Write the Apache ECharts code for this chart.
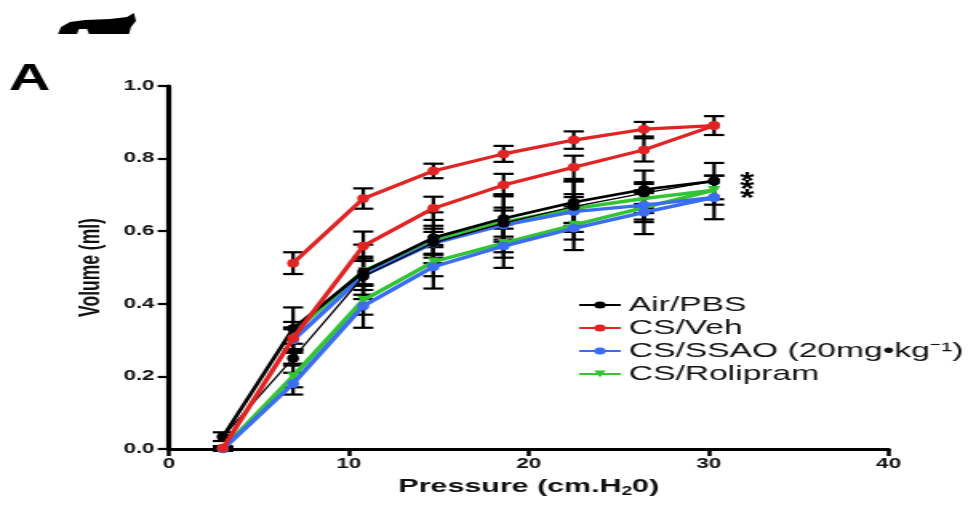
<!DOCTYPE html>
<html><head><meta charset="utf-8">
<script src="https://cdn.jsdelivr.net/npm/echarts@6/dist/echarts.min.js"></script>
<style>
html,body{margin:0;padding:0;background:#fff;overflow:hidden;}
#wrap{width:970px;height:506px;overflow:hidden;}
#chart{width:606.25px;height:506px;transform:scaleX(1.6);transform-origin:0 0;}
</style></head><body><div id="wrap"><div id="chart"></div></div>
<script>
// Pressure (cm H2O) sampling points
const pressure = [3, 6.9, 10.8, 14.7, 18.6, 22.5, 26.4, 30.3];
const groupNames = ['Air/PBS', 'CS/Veh', 'CS/SSAO (20mg•kg⁻¹)', 'CS/Rolipram'];
const xTicks = [0, 10, 20, 30, 40];
const yTicks = [0, 0.2, 0.4, 0.6, 0.8, 1.0];

// Volume (ml): inflation (lower) and deflation (upper) limbs
const airInflation  = [0.034, 0.25, 0.475, 0.568, 0.622, 0.668, 0.705, 0.738];
const airDeflation  = [0.034, 0.332, 0.488, 0.582, 0.635, 0.680, 0.715, 0.738];
const vehInflation  = [0.003, 0.305, 0.559, 0.663, 0.727, 0.776, 0.824, 0.891];
const vehDeflation  = [null, 0.512, 0.690, 0.766, 0.813, 0.851, 0.881, 0.891];
const ssaoInflation = [0.0, 0.18, 0.394, 0.502, 0.559, 0.608, 0.652, 0.693];
const ssaoDeflation = [null, 0.30, 0.478, 0.567, 0.617, 0.654, 0.672, 0.693];
const roliInflation = [0.0, 0.20, 0.41, 0.516, 0.567, 0.617, 0.665, 0.713];
const roliDeflation = [null, 0.32, 0.49, 0.575, 0.625, 0.662, 0.69, 0.713];

// SEM
const airInflationSem  = [0.012, 0.015, 0.05, 0.03, 0.08, 0.07, 0.03, 0.05];
const airDeflationSem  = [null, 0.058, 0.075, 0.07, 0.064, 0.057, 0.052, null];
const vehInflationSem  = [0.005, 0.03, 0.04, 0.032, 0.031, 0.032, 0.032, 0.026];
const vehDeflationSem  = [null, 0.03, 0.028, 0.02, 0.022, 0.024, 0.02, null];
const ssaoInflationSem = [0.005, 0.03, 0.06, 0.06, 0.06, 0.06, 0.06, 0.06];
const ssaoDeflationSem = [null, 0.03, 0.04, 0.04, 0.04, 0.04, 0.04, null];
const roliInflationSem = [0.005, 0.03, 0.04, 0.04, 0.04, 0.04, 0.04, 0.04];
const roliDeflationSem = [null, 0.03, 0.04, 0.04, 0.04, 0.04, 0.04, null];

const S = 1.6; // horizontal stretch of the figure
const FONT = '"Liberation Sans", Arial, sans-serif';

function pts(vals){ return pressure.map((p,i)=> vals[i]==null?null:[p, vals[i]]).filter(d=>d); }
function errs(vals, sem){ return pressure.map((p,i)=> (vals[i]==null||sem[i]==null)?null:[p, vals[i]-sem[i], vals[i]+sem[i]]).filter(d=>d); }

const COLORS = {air:'#000000', veh:'#e02424', ssao:'#3a6df0', roli:'#33c433'};

function lineSeries(name, data, color, symbol, width, rotate, z, size){
  return {
    type:'line', name:name, data:pts(data), z:z,
    symbol:symbol, symbolSize:size || [7.5,8.5], symbolRotate:rotate||0,
    lineStyle:{color:color, width:width}, itemStyle:{color:color},
    showSymbol:true, animation:false, emphasis:{disabled:true}
  };
}
const errorData = [].concat(
  errs(roliInflation, roliInflationSem), errs(roliDeflation, roliDeflationSem),
  errs(ssaoInflation, ssaoInflationSem), errs(ssaoDeflation, ssaoDeflationSem),
  errs(airInflation, airInflationSem), errs(airDeflation, airDeflationSem),
  errs(vehInflation, vehInflationSem), errs(vehDeflation, vehDeflationSem)
);

const chart = echarts.init(document.getElementById('chart'));
chart.setOption({
  animation:false,
  backgroundColor:'#ffffff',
  grid:{left:105.6, right:50.6, top:86, bottom:57, containLabel:false},
  xAxis:{
    type:'value', min:xTicks[0], max:xTicks[xTicks.length-1], interval:10,
    name:'{n|Pressure (cm.H}{s|2}{n|0)}', nameLocation:'middle', nameGap:27,
    nameTextStyle:{rich:{
      n:{fontFamily:FONT, fontWeight:'bold', fontSize:19, color:'#111', lineHeight:22, verticalAlign:'middle'},
      s:{fontFamily:FONT, fontWeight:'bold', fontSize:12, color:'#111', lineHeight:12, verticalAlign:'bottom'}
    }},
    axisLine:{lineStyle:{color:'#000', width:3}},
    axisTick:{length:7, lineStyle:{color:'#000', width:2.5}},
    axisLabel:{fontFamily:FONT, fontWeight:'bold', fontSize:14, color:'#111', margin:8},
    splitLine:{show:false}
  },
  yAxis:{
    type:'value', min:yTicks[0], max:yTicks[yTicks.length-1], interval:0.2,
    name:'Volume (ml)', nameLocation:'middle', nameGap:34, nameRotate:90,
    nameTextStyle:{fontFamily:FONT, fontWeight:'bold', fontSize:17.5, color:'#111'},
    axisLine:{show:true, lineStyle:{color:'#000', width:3.2}},
    axisTick:{show:true, length:7, lineStyle:{color:'#000', width:2.2}},
    axisLabel:{fontFamily:FONT, fontWeight:'bold', fontSize:14, color:'#111', margin:9,
      formatter:v=>v.toFixed(1)},
    splitLine:{show:false}
  },
  legend:{
    data:groupNames, orient:'vertical', left:356, top:289,
    itemWidth:26, itemHeight:9, itemGap:1, selectedMode:false,
    textStyle:{fontFamily:FONT, fontSize:21, color:'#111', lineHeight:22}
  },
  graphic:[
    {type:'text', left:5.6, top:62, style:{text:'A', font:'bold 36px '+FONT, fill:'#000'}},
    {type:'polygon', shape:{points:[[58/S,34],[61/S,27],[70/S,22],[85/S,20],[110/S,19],[127/S,17],[134/S,13],[136/S,21],[131/S,27],[129/S,34],[89/S,34],[87/S,29],[79/S,29],[77/S,34]]}, style:{fill:'#000'}},
    {type:'text', x:747/S, y:183, style:{text:'*', font:'bold 23px '+FONT, fill:'#000', align:'center', verticalAlign:'middle'}},
    {type:'text', x:747/S, y:191, style:{text:'*', font:'bold 23px '+FONT, fill:'#000', align:'center', verticalAlign:'middle'}},
    {type:'text', x:747/S, y:200, style:{text:'*', font:'bold 23px '+FONT, fill:'#000', align:'center', verticalAlign:'middle'}}
  ],
  series:[
    {
      type:'custom', name:'SEM', data:errorData, z:1, silent:true,
      encode:{x:0, y:[1,2]},
      renderItem:function(params, api){
        const x = api.value(0), lo = api.value(1), hi = api.value(2);
        const a = api.coord([x, lo]), b = api.coord([x, hi]);
        const hw = 6.3;
        const st = {stroke:'#000', lineWidth:2.2};
        return {type:'group', children:[
          {type:'line', shape:{x1:a[0], y1:a[1], x2:b[0], y2:b[1]}, style:st},
          {type:'line', shape:{x1:b[0]-hw, y1:b[1], x2:b[0]+hw, y2:b[1]}, style:st},
          {type:'line', shape:{x1:a[0]-hw, y1:a[1], x2:a[0]+hw, y2:a[1]}, style:st}
        ]};
      }
    },
    lineSeries(groupNames[3], roliInflation, COLORS.roli, 'triangle', 3.4, 180, 2),
    lineSeries(groupNames[3], roliDeflation, COLORS.roli, 'triangle', 3.4, 180, 2),
    lineSeries(groupNames[2], ssaoInflation, COLORS.ssao, 'circle', 3.4, 0, 3),
    lineSeries(groupNames[2], ssaoDeflation, COLORS.ssao, 'circle', 3.4, 0, 3),
    lineSeries(groupNames[0], airInflation, COLORS.air, 'circle', 1.3, 0, 4),
    lineSeries(groupNames[0], airDeflation, COLORS.air, 'circle', 2.6, 0, 4),
    lineSeries(groupNames[1], vehInflation, COLORS.veh, 'circle', 3.2, 0, 5),
    lineSeries(groupNames[1], vehDeflation, COLORS.veh, 'circle', 3.2, 0, 5)
  ]
});
</script></body></html>
